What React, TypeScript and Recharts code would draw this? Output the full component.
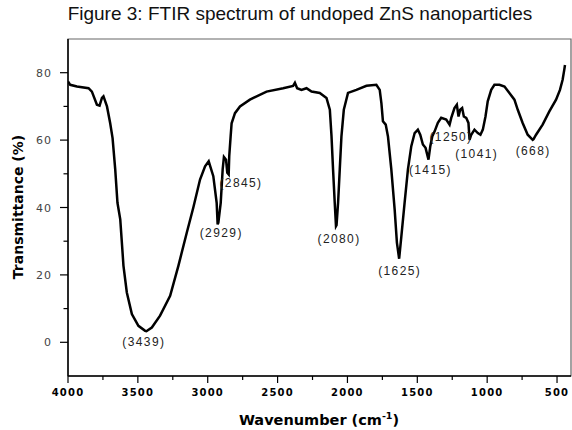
import React from "react";
import {
  ComposedChart,
  Line,
  Scatter,
  XAxis,
  YAxis,
  ReferenceArea,
} from "recharts";

// spectrum (descending wavenumber)
const WAVENUMBER = [
  4000, 3984, 3936, 3853, 3829, 3793, 3774, 3757, 3746, 3721, 3698, 3681, 3662, 3646, 3626,
  3603, 3579, 3543, 3496, 3448, 3439, 3400, 3341, 3269, 3210, 3150, 3103, 3055, 3019, 2993,
  2960, 2936, 2929, 2924, 2907, 2893, 2884, 2869, 2860, 2850, 2846, 2836, 2829, 2805, 2769,
  2698, 2579, 2460, 2389, 2376, 2360, 2329, 2293, 2257, 2198, 2150, 2126, 2114, 2103, 2091,
  2082, 2078, 2067, 2055, 2043, 2026, 1996, 1936, 1864, 1793, 1769, 1757, 1746, 1726, 1710,
  1686, 1662, 1646, 1630, 1614, 1591, 1567, 1543, 1519, 1496, 1479, 1460, 1441, 1420, 1407,
  1393, 1376, 1353, 1329, 1293, 1269, 1257, 1234, 1217, 1205, 1193, 1179, 1167, 1150, 1134,
  1126, 1114, 1091, 1067, 1048, 1031, 1012, 996, 971, 948, 912, 876, 841, 805, 781,
  746, 710, 674, 668, 650, 603, 555, 507, 479, 460, 448, 443,
];
const TRANSMITTANCE = [
  77.4, 76.4, 75.9, 75.4, 74.4, 70.5, 70.2, 72.5, 73.0, 70.0, 65.0, 60.6, 51.3, 41.4, 36.5,
  22.7, 14.8, 8.4, 4.9, 3.4, 3.3, 4.4, 7.9, 13.8, 22.7, 32.5, 40.0, 48.3, 52.2, 53.7,
  49.3, 41.4, 35.0, 35.5, 41.4, 51.3, 55.0, 54.2, 50.3, 49.8, 55.2, 61.1, 65.0, 68.0, 70.0,
  72.0, 74.4, 75.4, 76.1, 77.0, 75.4, 74.9, 75.4, 74.4, 74.0, 72.5, 69.0, 61.1, 51.3, 41.4,
  34.5, 34.8, 41.4, 51.3, 61.1, 69.0, 74.0, 74.9, 76.1, 76.4, 74.9, 71.0, 65.6, 64.6, 61.1,
  51.3, 39.4, 29.6, 24.8, 31.5, 41.4, 51.3, 58.2, 62.1, 63.1, 61.6, 58.7, 57.7, 54.2, 58.2,
  61.1, 62.6, 65.1, 66.6, 66.1, 64.6, 66.6, 69.5, 70.5, 67.0, 69.0, 69.5, 67.0, 66.6, 65.1,
  60.1, 61.6, 63.1, 62.1, 61.6, 63.1, 67.0, 71.5, 74.9, 76.4, 76.4, 75.9, 74.0, 72.0, 69.0,
  65.1, 61.6, 60.1, 60.3, 61.6, 64.6, 68.5, 72.0, 74.9, 77.9, 80.9, 82.3,
];

// peak annotations: text and where its centre sits
const PEAK_TEXT = ["(3439)", "(2929)", "(2845)", "(2080)", "(1625)", "(1415)", "(1250)", "(1041)", "(668)"];
const PEAK_X = [3457, 2903, 2762, 2060, 1626, 1406, 1259, 1075, 671];
const PEAK_Y = [0, 32.3, 47.3, 30.8, 21.1, 51.1, 60.9, 56.0, 56.9];

const X_TICKS = [4000, 3750, 3500, 3250, 3000, 2750, 2500, 2250, 2000, 1750, 1500, 1250, 1000, 750, 500];
const Y_TICKS = [0, 10, 20, 30, 40, 50, 60, 70, 80];

const spectrum = WAVENUMBER.map((w, i) => ({ w, t: TRANSMITTANCE[i] }));
const peaks = PEAK_TEXT.map((label, i) => ({ w: PEAK_X[i], t: PEAK_Y[i], label }));

const BOLD_FONT = "'DejaVu Sans', Verdana, sans-serif";

function XTick(props: any) {
  const { x, y, payload } = props;
  const major = payload.value % 500 === 0;
  return (
    <g>
      <line x1={x} x2={x} y1={y} y2={y + (major ? 7 : 4)} stroke="#000" strokeWidth={1.2} />
      {major && (
        <text
          x={x}
          y={y + 20}
          textAnchor="middle"
          fontFamily={BOLD_FONT}
          fontWeight="bold"
          fontSize={10}
          letterSpacing={1.2}
          fill="#000"
        >
          {payload.value}
        </text>
      )}
    </g>
  );
}

function YTick(props: any) {
  const { x, y, payload } = props;
  const major = payload.value % 20 === 0;
  return (
    <g>
      <line x1={x} x2={x - (major ? 8 : 4.5)} y1={y} y2={y} stroke="#000" strokeWidth={1.2} />
      {major && (
        <text
          x={x - 16}
          y={y + 4}
          textAnchor="end"
          fontFamily={BOLD_FONT}
          fontSize={11}
          letterSpacing={1}
          fill="#444"
        >
          {payload.value}
        </text>
      )}
    </g>
  );
}

function PeakLabel(props: any) {
  const { cx, cy, payload } = props;
  return (
    <text
      x={cx}
      y={cy + 4}
      textAnchor="middle"
      fontFamily="'Liberation Sans', Arial, sans-serif"
      fontSize={12}
      letterSpacing={1.4}
      fill="#222"
    >
      {payload.label}
    </text>
  );
}

export default function App() {
  return (
    <div style={{ position: "absolute", left: 0, top: 0, width: 572, height: 430, background: "#fff" }}>
      <div
        style={{
          position: "absolute",
          left: 0,
          top: 0,
          width: 600,
          textAlign: "center",
          fontFamily: "'Liberation Sans Narrow', 'Liberation Sans', Arial, sans-serif",
          fontSize: 19,
          lineHeight: "27px",
          color: "#111",
        }}
      >
        Figure 3: FTIR spectrum of undoped ZnS nanoparticles
      </div>
      <ComposedChart
        width={572}
        height={430}
        margin={{ top: 39, right: 1, bottom: 0, left: 8 }}
        style={{ position: "absolute", left: 0, top: 0 }}
      >
        <ReferenceArea x1={400} x2={4000} y1={-10} y2={90} fill="none" stroke="#666" strokeWidth={1.2} />
        <XAxis
          type="number"
          dataKey="w"
          domain={[400, 4000]}
          reversed
          ticks={X_TICKS}
          interval={0}
          tickSize={0}
          tickMargin={0}
          tick={<XTick />}
          tickLine={false}
          axisLine={{ stroke: "#000", strokeWidth: 1.5 }}
          height={54}
          allowDataOverflow
          label={{
            position: "insideBottom",
            content: () => (
              <text x={319} y={425} textAnchor="middle" fontFamily={BOLD_FONT} fontWeight="bold" fontSize={14.5} fill="#000">
                <tspan>Wavenumber (cm</tspan>
                <tspan dy={-6} fontSize={9.5}>-1</tspan>
                <tspan dy={6}>)</tspan>
              </text>
            ),
          }}
        />
        <YAxis
          type="number"
          dataKey="t"
          domain={[-10, 90]}
          ticks={Y_TICKS}
          interval={0}
          tickSize={0}
          tickMargin={0}
          tick={<YTick />}
          tickLine={false}
          axisLine={{ stroke: "#000", strokeWidth: 1.5 }}
          width={60}
          allowDataOverflow
          label={{
            position: "insideLeft",
            content: () => (
              <text
                x={18}
                y={207}
                transform="rotate(-90 18 207)"
                textAnchor="middle"
                dominantBaseline="central"
                fontFamily={BOLD_FONT}
                fontWeight="bold"
                fontSize={14}
                fill="#000"
              >
                Transmittance (%)
              </text>
            ),
          }}
        />
        <Line
          data={spectrum}
          dataKey="t"
          type="linear"
          stroke="#000"
          strokeWidth={2.5}
          dot={false}
          activeDot={false}
          isAnimationActive={false}
        />
        <Scatter data={peaks} dataKey="t" shape={<PeakLabel />} isAnimationActive={false} />
      </ComposedChart>
    </div>
  );
}
